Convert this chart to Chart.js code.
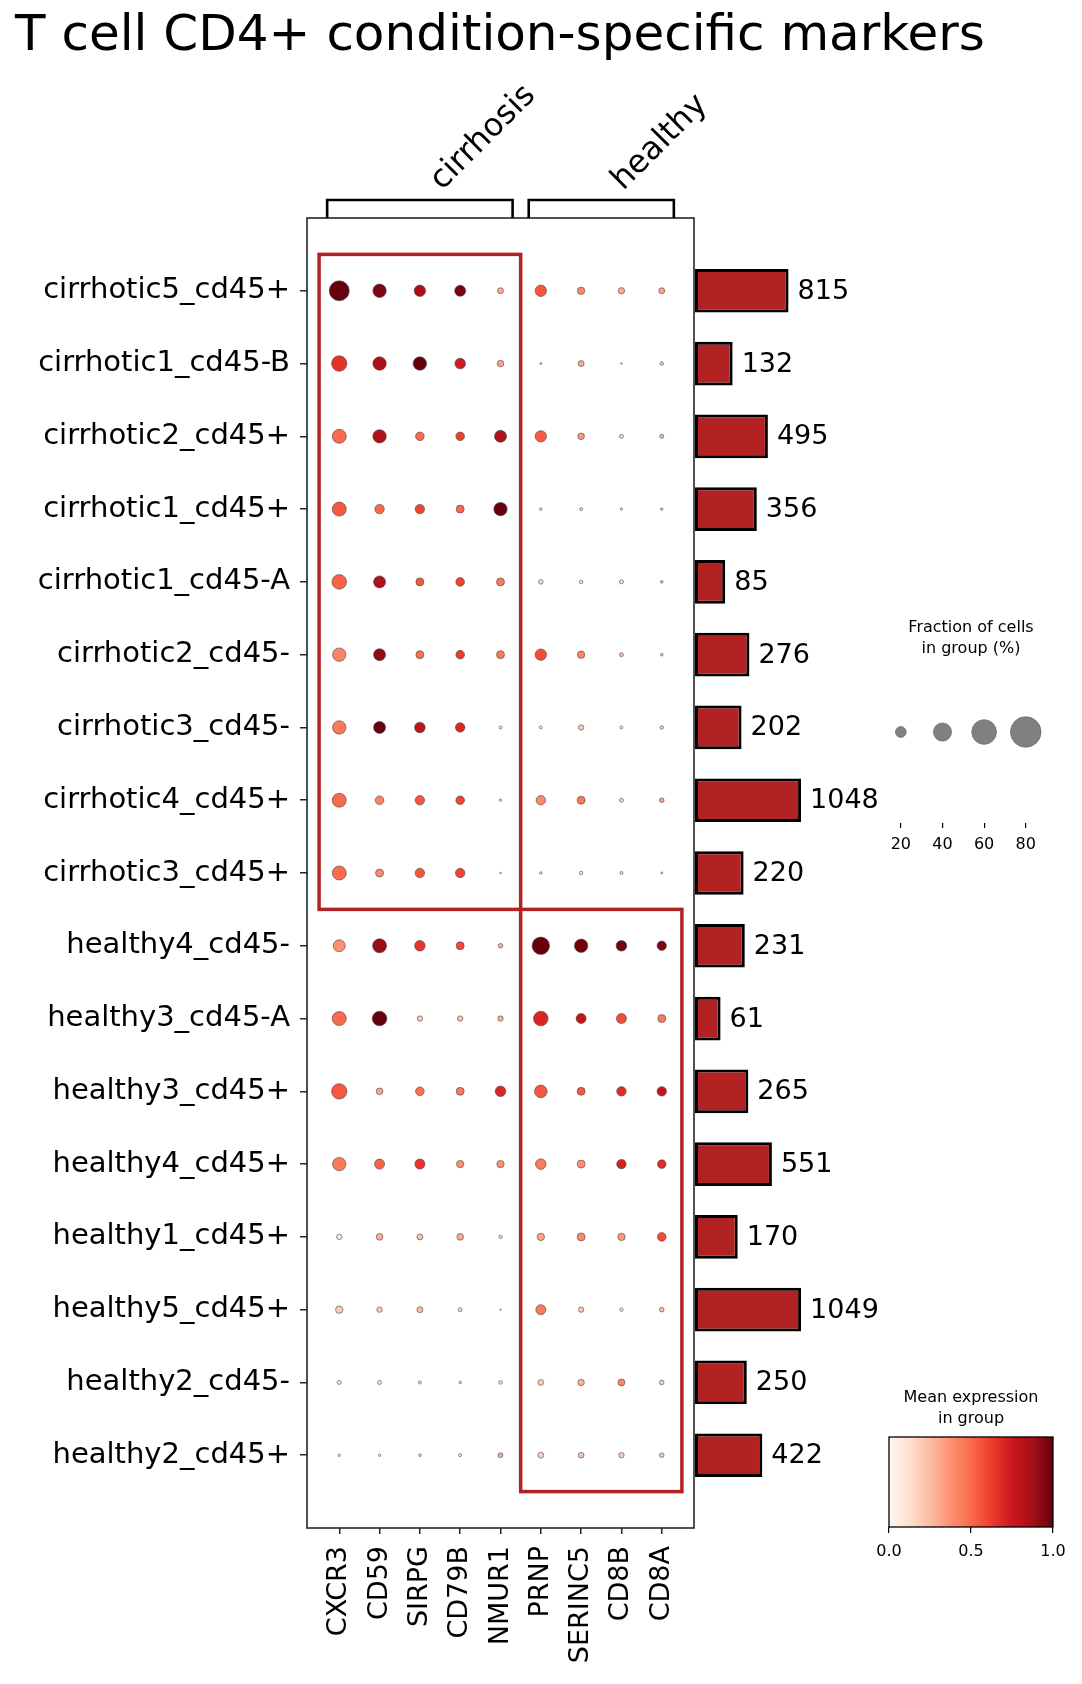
<!DOCTYPE html>
<html>
<head>
<meta charset="utf-8">
<script src="https://cdn.jsdelivr.net/npm/chart.js@4.4.1/dist/chart.umd.min.js"></script>
<style>
html, body { margin: 0; padding: 0; background: #fff; }
#wrap { position: relative; width: 1082px; height: 1684px; overflow: hidden; }
canvas { position: absolute; }
</style>
</head>
<body>
<div id="wrap">
    <canvas id="dots" width="1000" height="1684" style="left:0;top:0"></canvas>
    <canvas id="totals" width="216" height="1684" style="left:694px;top:0"></canvas>
    <canvas id="sizeLegend" width="214" height="263" style="left:864px;top:600px"></canvas>
    <canvas id="colorbar" width="202" height="207" style="left:870px;top:1370px"></canvas>
</div>
<script>
// Données
const groups = [
    'cirrhotic5_cd45+', 'cirrhotic1_cd45-B', 'cirrhotic2_cd45+', 'cirrhotic1_cd45+',
    'cirrhotic1_cd45-A', 'cirrhotic2_cd45-', 'cirrhotic3_cd45-', 'cirrhotic4_cd45+',
    'cirrhotic3_cd45+', 'healthy4_cd45-', 'healthy3_cd45-A', 'healthy3_cd45+',
    'healthy4_cd45+', 'healthy1_cd45+', 'healthy5_cd45+', 'healthy2_cd45-', 'healthy2_cd45+'
];
const genes = ['CXCR3', 'CD59', 'SIRPG', 'CD79B', 'NMUR1', 'PRNP', 'SERINC5', 'CD8B', 'CD8A'];

const geneGroupLabels = ['cirrhosis', 'healthy'];
const geneGroupStart = [0, 5];
const geneGroupEnd = [4, 8];

// cadres rouges : lignes / gènes couverts
const boxRowStart = [0, 9];
const boxRowEnd = [8, 16];
const boxGeneStart = [0, 5];
const boxGeneEnd = [4, 8];

const cellCounts = [815, 132, 495, 356, 85, 276, 202, 1048, 220, 231, 61, 265, 551, 170, 1049, 250, 422];

// fraction de cellules (%) par groupe x gène
const fractionPct = [
    [45.3, 26.6, 21.4, 20.4, 9.1, 21.4, 12.0, 9.9, 9.1],
    [32.0, 26.6, 26.6, 19.4, 10.4, 2.1, 9.1, 1.6, 4.3],
    [28.2, 26.6, 14.7, 14.7, 22.9, 21.4, 10.4, 5.3, 5.3],
    [28.2, 16.6, 16.6, 13.3, 26.6, 3.0, 3.6, 2.7, 2.7],
    [29.8, 22.9, 13.3, 14.7, 13.3, 6.4, 4.3, 5.3, 3.0],
    [26.6, 22.9, 13.3, 14.7, 13.3, 21.4, 12.0, 5.3, 3.0],
    [26.6, 22.9, 19.4, 16.6, 3.6, 3.6, 7.9, 3.6, 4.3],
    [28.2, 14.7, 16.6, 14.7, 2.7, 16.6, 13.3, 5.3, 6.4],
    [28.2, 13.3, 16.6, 16.6, 1.6, 3.0, 4.3, 3.6, 2.1],
    [22.9, 28.2, 19.4, 13.3, 6.4, 37.7, 26.6, 19.4, 16.6],
    [28.2, 29.8, 7.9, 7.9, 7.9, 29.8, 18.0, 18.0, 13.3],
    [32.0, 10.4, 14.7, 13.3, 19.4, 24.5, 13.3, 16.6, 16.6],
    [26.6, 18.0, 18.0, 12.0, 12.0, 19.4, 13.3, 16.6, 14.7],
    [7.9, 10.4, 9.1, 10.4, 4.3, 12.0, 13.3, 12.0, 14.7],
    [12.0, 7.9, 9.1, 5.3, 1.3, 18.0, 7.9, 4.3, 6.4],
    [5.3, 5.3, 3.6, 3.0, 4.6, 8.5, 10.0, 11.0, 6.4],
    [2.7, 2.7, 3.0, 3.6, 7.1, 9.0, 8.5, 7.9, 6.4]
];

// expression moyenne normalisée (0-1)
const meanExpr = [
    [1.00, 0.96, 0.86, 0.97, 0.30, 0.55, 0.40, 0.30, 0.33],
    [0.66, 0.86, 1.00, 0.74, 0.33, 0.18, 0.30, 0.15, 0.20],
    [0.50, 0.84, 0.50, 0.62, 0.84, 0.54, 0.35, 0.15, 0.25],
    [0.55, 0.50, 0.60, 0.50, 1.00, 0.10, 0.10, 0.10, 0.18],
    [0.52, 0.84, 0.55, 0.60, 0.45, 0.15, 0.10, 0.12, 0.18],
    [0.42, 0.92, 0.48, 0.62, 0.45, 0.58, 0.42, 0.25, 0.18],
    [0.45, 1.00, 0.80, 0.70, 0.10, 0.10, 0.20, 0.10, 0.18],
    [0.50, 0.42, 0.55, 0.60, 0.10, 0.40, 0.45, 0.18, 0.33],
    [0.50, 0.40, 0.55, 0.60, 0.10, 0.10, 0.10, 0.10, 0.10],
    [0.38, 0.90, 0.65, 0.58, 0.28, 1.00, 0.98, 0.98, 0.95],
    [0.50, 1.00, 0.20, 0.22, 0.28, 0.70, 0.78, 0.58, 0.45],
    [0.55, 0.32, 0.48, 0.45, 0.70, 0.55, 0.55, 0.68, 0.78],
    [0.45, 0.52, 0.65, 0.38, 0.38, 0.45, 0.38, 0.72, 0.68],
    [0.08, 0.28, 0.22, 0.30, 0.15, 0.32, 0.40, 0.35, 0.58],
    [0.20, 0.20, 0.25, 0.15, 0.10, 0.45, 0.22, 0.10, 0.25],
    [0.10, 0.10, 0.10, 0.10, 0.12, 0.18, 0.28, 0.42, 0.20],
    [0.10, 0.10, 0.12, 0.12, 0.30, 0.18, 0.22, 0.20, 0.20]
];

const sizeLegendPct = [20, 40, 60, 80];
const colorbarTicks = [0, 0.5, 1];

// Palette "Reds" de matplotlib
const redsStops = ['#fff5f0', '#fee0d2', '#fcbba1', '#fc9272', '#fb6a4a', '#ef3b2c', '#cb181d', '#a50f15', '#67000d'];

function hexToRgb(h) {
    return [parseInt(h.slice(1, 3), 16), parseInt(h.slice(3, 5), 16), parseInt(h.slice(5, 7), 16)];
}

function reds(t) {
    t = Math.min(1, Math.max(0, t));
    const pos = t * (redsStops.length - 1);
    const i = Math.min(Math.floor(pos), redsStops.length - 2);
    const f = pos - i;
    const a = hexToRgb(redsStops[i]);
    const b = hexToRgb(redsStops[i + 1]);
    const c = a.map((v, k) => Math.round(v + (b[k] - v) * f));
    return `rgb(${c[0]},${c[1]},${c[2]})`;
}

// rayon du point en fonction de la fraction (aire ~ frac^1.5)
function dotRadius(pct) {
    return 18.1 * Math.pow(pct / 100, 0.75);
}

// Échelle racine carrée pour les totaux
class SqrtScale extends Chart.LinearScale {
    getPixelForValue(value) {
        const a = Math.sqrt(Math.max(this.min, 0));
        const b = Math.sqrt(this.max);
        return this.getPixelForDecimal((Math.sqrt(Math.max(value, 0)) - a) / (b - a));
    }
    getValueForPixel(pixel) {
        const a = Math.sqrt(Math.max(this.min, 0));
        const b = Math.sqrt(this.max);
        const s = a + this.getDecimalForPixel(pixel) * (b - a);
        return s * s;
    }
}
SqrtScale.id = 'sqrt';
SqrtScale.defaults = Chart.LinearScale.defaults;
Chart.register(SqrtScale);

Chart.defaults.font.family = '"DejaVu Sans", sans-serif';
Chart.defaults.color = '#000';

function noPadding(s) {
    s.paddingLeft = 0;
    s.paddingRight = 0;
    s.paddingTop = 0;
    s.paddingBottom = 0;
}

// Construire les points du dotplot
const dotData = [];
groups.forEach((g, row) => {
    genes.forEach((gene, col) => {
        dotData.push({ x: col, y: row, frac: fractionPct[row][col], expr: meanExpr[row][col] });
    });
});

const dotplotDecor = {
    id: 'dotplotDecor',
    afterDatasetsDraw(chart) {
        const { ctx, chartArea: a, scales: { x, y } } = chart;
        ctx.save();

        // cadre des axes
        ctx.strokeStyle = '#262626';
        ctx.lineWidth = 1.6;
        ctx.strokeRect(a.left, a.top, a.right - a.left, a.bottom - a.top);

        // cadres rouges
        ctx.strokeStyle = '#b22222';
        ctx.lineWidth = 3.5;
        for (let i = 0; i < boxRowStart.length; i++) {
            const x0 = x.getPixelForValue(boxGeneStart[i] - 0.5);
            const x1 = x.getPixelForValue(boxGeneEnd[i] + 0.5);
            const y0 = y.getPixelForValue(boxRowStart[i] - 0.5);
            const y1 = y.getPixelForValue(boxRowEnd[i] + 0.5);
            ctx.strokeRect(x0, y0, x1 - x0, y1 - y0);
        }

        // crochets des groupes de gènes
        ctx.strokeStyle = '#000';
        ctx.lineWidth = 2.6;
        ctx.fillStyle = '#000';
        ctx.font = '32px "DejaVu Sans"';
        ctx.textAlign = 'left';
        ctx.textBaseline = 'alphabetic';
        for (let g = 0; g < geneGroupLabels.length; g++) {
            const l = x.getPixelForValue(geneGroupStart[g] - 0.3);
            const r = x.getPixelForValue(geneGroupEnd[g] + 0.3);
            ctx.beginPath();
            ctx.moveTo(l, a.top);
            ctx.lineTo(l, a.top - 18);
            ctx.lineTo(r, a.top - 18);
            ctx.lineTo(r, a.top);
            ctx.stroke();

            ctx.save();
            ctx.translate((l + r) / 2 + 22, a.top - 27);
            ctx.rotate(-Math.PI / 4);
            ctx.fillText(geneGroupLabels[g], 0, 0);
            ctx.restore();
        }
        ctx.restore();
    }
};

new Chart(document.getElementById('dots'), {
    type: 'scatter',
    data: {
        datasets: [{
            data: dotData,
            pointRadius: ctx => ctx.raw ? dotRadius(ctx.raw.frac) : 0,
            pointBackgroundColor: ctx => ctx.raw ? reds(ctx.raw.expr) : '#fff',
            pointBorderColor: 'rgba(70,70,70,0.85)',
            pointBorderWidth: 0.7
        }]
    },
    options: {
        responsive: false,
        animation: false,
        events: [],
        layout: { padding: { left: 15, right: 0, top: 0, bottom: 0 } },
        plugins: {
            legend: { display: false },
            tooltip: { enabled: false },
            title: {
                display: true,
                text: 'T cell CD4+ condition-specific markers',
                align: 'start',
                color: '#000',
                font: { size: 50, weight: 'normal' },
                padding: { top: 6.7, bottom: 151.3 }
            }
        },
        scales: {
            x: {
                type: 'linear',
                min: -0.8,
                max: 8.8,
                afterBuildTicks: s => { s.ticks = genes.map((g, i) => ({ value: i })); },
                afterFit: s => { s.height = 156; noPadding(s); },
                ticks: {
                    autoSkip: false,
                    minRotation: 90,
                    maxRotation: 90,
                    padding: 12,
                    font: { size: 27 },
                    color: '#000',
                    callback: v => genes[v]
                },
                grid: { drawOnChartArea: false, tickLength: 6, color: '#262626', lineWidth: 1.5 },
                border: { display: false }
            },
            y: {
                type: 'linear',
                min: -1,
                max: 17,
                reverse: true,
                afterBuildTicks: s => { s.ticks = groups.map((g, i) => ({ value: i })); },
                afterFit: s => { s.width = 292; noPadding(s); },
                ticks: {
                    autoSkip: false,
                    padding: 10,
                    font: { size: 29 },
                    color: '#000',
                    callback: v => groups[v]
                },
                grid: { drawOnChartArea: false, tickLength: 7, color: '#262626', lineWidth: 1.5 },
                border: { display: false }
            },
            // espace réservé à droite (barres et légendes)
            yRight: {
                type: 'linear',
                position: 'right',
                min: 0,
                max: 1,
                afterFit: s => { s.width = 306; noPadding(s); },
                ticks: { display: false },
                grid: { display: false },
                border: { display: false }
            }
        }
    },
    plugins: [dotplotDecor]
});

// Totaux par groupe
const barLabels = {
    id: 'barLabels',
    afterDatasetsDraw(chart) {
        const { ctx } = chart;
        const meta = chart.getDatasetMeta(0);
        ctx.save();
        ctx.font = '27px "DejaVu Sans"';
        ctx.fillStyle = '#000';
        ctx.textAlign = 'left';
        ctx.textBaseline = 'middle';
        meta.data.forEach((bar, i) => {
            ctx.fillText(String(cellCounts[i]), bar.x + 9, bar.y + 1);
        });
        ctx.restore();
    }
};

new Chart(document.getElementById('totals'), {
    type: 'bar',
    data: {
        datasets: [{
            data: cellCounts.map((c, i) => ({ x: c, y: i })),
            backgroundColor: '#b22222',
            borderColor: '#000',
            borderWidth: 3,
            borderSkipped: false,
            barPercentage: 0.6,
            categoryPercentage: 1
        }]
    },
    options: {
        indexAxis: 'y',
        responsive: false,
        animation: false,
        events: [],
        layout: { padding: { left: 1, right: 86, top: 218, bottom: 156 } },
        plugins: { legend: { display: false }, tooltip: { enabled: false } },
        scales: {
            x: { type: 'sqrt', display: false, min: 0, max: 1550 },
            y: {
                type: 'linear',
                display: false,
                offset: false,
                min: -1,
                max: 17,
                reverse: true,
                afterBuildTicks: s => { s.ticks = groups.map((g, i) => ({ value: i })); }
            }
        }
    },
    plugins: [barLabels]
});

// Légende des tailles
new Chart(document.getElementById('sizeLegend'), {
    type: 'scatter',
    data: {
        datasets: [{
            data: sizeLegendPct.map(p => ({ x: p, y: 0 })),
            pointRadius: ctx => ctx.raw ? dotRadius(ctx.raw.x) : 0,
            pointBackgroundColor: '#808080',
            pointBorderColor: '#6a6a6a',
            pointBorderWidth: 0.7
        }]
    },
    options: {
        responsive: false,
        animation: false,
        events: [],
        layout: { padding: 0 },
        plugins: {
            legend: { display: false },
            tooltip: { enabled: false },
            title: {
                display: true,
                text: ['Fraction of cells', 'in group (%)'],
                color: '#000',
                font: { size: 16, weight: 'normal', lineHeight: 1.3125 },
                padding: { top: 17.5, bottom: 17.9 }
            }
        },
        scales: {
            x: {
                type: 'linear',
                min: 10,
                max: 97.4,
                afterBuildTicks: s => { s.ticks = sizeLegendPct.map(v => ({ value: v })); },
                afterFit: s => { s.height = 40; noPadding(s); },
                ticks: { padding: 7, font: { size: 16 }, color: '#000', callback: v => String(v) },
                grid: { drawOnChartArea: false, tickLength: 5, color: '#000', lineWidth: 1.2 },
                border: { display: false }
            },
            y: { type: 'linear', display: false, min: -1, max: 0.6 }
        }
    }
});

// Barre de couleur
const colorbarFill = {
    id: 'colorbarFill',
    beforeDatasetsDraw(chart) {
        const { ctx, chartArea: a } = chart;
        ctx.save();
        const grad = ctx.createLinearGradient(a.left, 0, a.right, 0);
        redsStops.forEach((c, i) => grad.addColorStop(i / (redsStops.length - 1), c));
        ctx.fillStyle = grad;
        ctx.fillRect(a.left, a.top, a.right - a.left, a.bottom - a.top);
        ctx.strokeStyle = '#000';
        ctx.lineWidth = 1.3;
        ctx.strokeRect(a.left, a.top, a.right - a.left, a.bottom - a.top);
        ctx.restore();
    }
};

new Chart(document.getElementById('colorbar'), {
    type: 'scatter',
    data: { datasets: [{ data: [] }] },
    options: {
        responsive: false,
        animation: false,
        events: [],
        layout: { padding: { left: 19, right: 19, top: 0, bottom: 0 } },
        plugins: {
            legend: { display: false },
            tooltip: { enabled: false },
            title: {
                display: true,
                text: ['Mean expression', 'in group'],
                color: '#000',
                font: { size: 16, weight: 'normal', lineHeight: 1.3125 },
                padding: { top: 17.5, bottom: 7.5 }
            }
        },
        scales: {
            x: {
                type: 'linear',
                min: 0,
                max: 1,
                afterBuildTicks: s => { s.ticks = colorbarTicks.map(v => ({ value: v })); },
                afterFit: s => { s.height = 50; noPadding(s); },
                ticks: { padding: 9, font: { size: 16 }, color: '#000', callback: v => v.toFixed(1) },
                grid: { drawOnChartArea: false, tickLength: 6, color: '#000', lineWidth: 1.2 },
                border: { display: false }
            },
            y: { type: 'linear', display: false, min: 0, max: 1 }
        }
    },
    plugins: [colorbarFill]
});
</script>
</body>
</html>
